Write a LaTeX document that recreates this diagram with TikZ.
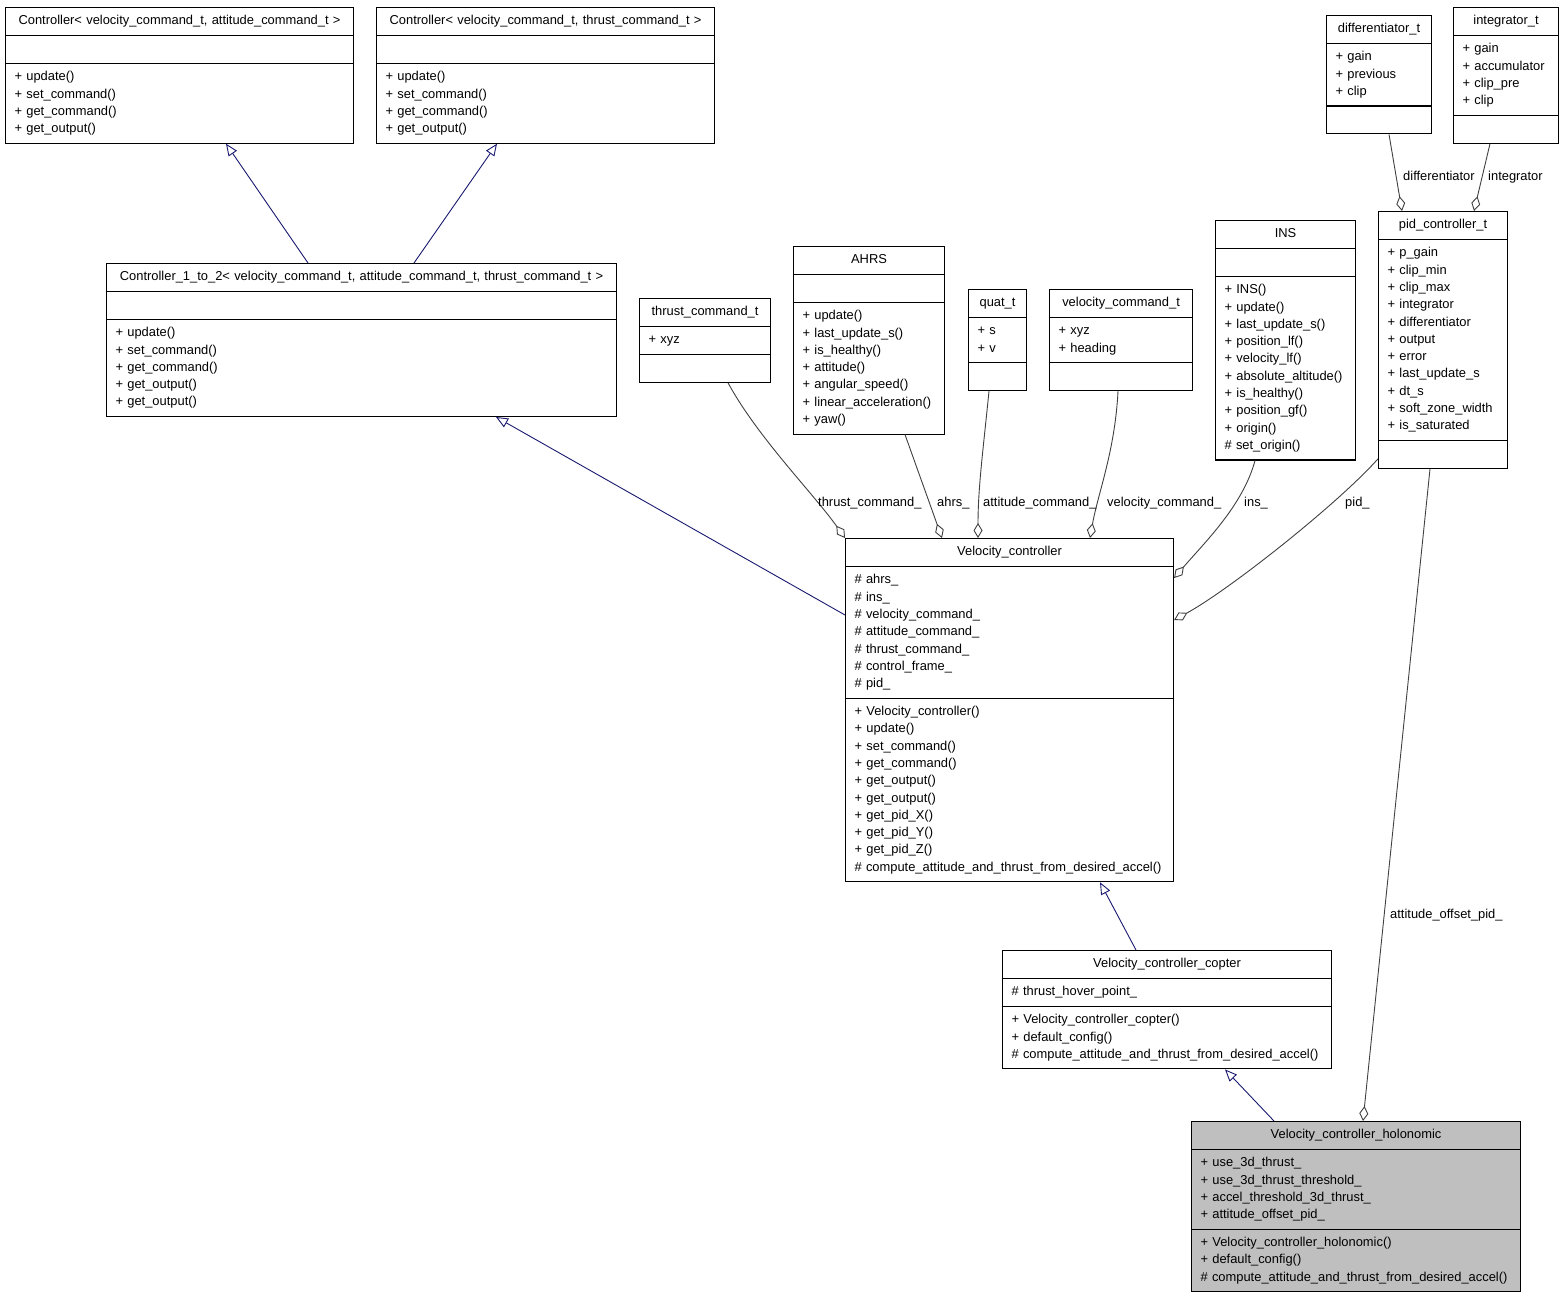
\documentclass[tikz,border=0pt]{standalone}
\usepackage{fontspec}
\setmainfont{Liberation Sans}
\usetikzlibrary{shapes.multipart,arrows.meta,calc}
\definecolor{ink}{HTML}{000000}
\definecolor{edgeG}{HTML}{404040}
\definecolor{inhB}{HTML}{191970}
\definecolor{selF}{HTML}{BFBFBF}
\newcommand{\umlfont}{\fontsize{12.9}{17.3}\selectfont}
\newcommand{\pub}{\strut+~}
\newcommand{\pro}{\strut\#~}
\newcommand{\umltitle}[1]{\strut\hfill\mbox{#1}\hfill\strut}
\tikzset{
  cls/.style={rectangle split, rectangle split parts=3, draw=ink, line width=1.1pt,
              fill=white, anchor=north west, inner xsep=9pt, inner ysep=4.75pt,
              align=left, font=\umlfont},
  inh/.style={-{Triangle[open, length=12pt, width=10pt]}, draw=inhB, line width=0.9pt},
  agg/.style={-{Diamond[open, length=15pt, width=9pt]}, draw=edgeG, line width=0.9pt},
  lbl/.style={font=\umlfont, anchor=base west, inner sep=0pt},
}

\begin{document}
\begin{tikzpicture}[x=1pt, y=-1pt]
  \useasboundingbox (0,0) rectangle (1564,1299);

  % ---------------------------------------------------------- base controllers
  \node[cls, text width=330pt] (ctrlatt) at (5,7)
    {\umltitle{Controller< velocity\_command\_t, attitude\_command\_t >}
     \nodepart{two}\strut
     \nodepart{three}\pub update()\\ \pub set\_command()\\ \pub get\_command()\\ \pub get\_output()};
  \node[cls, text width=320pt] (ctrlthr) at (376,7)
    {\umltitle{Controller< velocity\_command\_t, thrust\_command\_t >}
     \nodepart{two}\strut
     \nodepart{three}\pub update()\\ \pub set\_command()\\ \pub get\_command()\\ \pub get\_output()};
  \node[cls, text width=492pt] (ctrl12) at (106,263)
    {\umltitle{Controller\_1\_to\_2< velocity\_command\_t, attitude\_command\_t, thrust\_command\_t >}
     \nodepart{two}\strut
     \nodepart{three}\pub update()\\ \pub set\_command()\\ \pub get\_command()\\
       \pub get\_output()\\ \pub get\_output()};

  % ---------------------------------------------------------- members
  \node[cls, text width=113pt] (thrcmd) at (639,298)
    {\umltitle{thrust\_command\_t}
     \nodepart{two}\pub xyz
     \nodepart{three}\strut};
  \node[cls, text width=133pt] (ahrs) at (793,246)
    {\umltitle{AHRS}
     \nodepart{two}\strut
     \nodepart{three}\pub update()\\ \pub last\_update\_s()\\ \pub is\_healthy()\\ \pub attitude()\\
       \pub angular\_speed()\\ \pub linear\_acceleration()\\ \pub yaw()};
  \node[cls, text width=40pt] (quat) at (968,289)
    {\umltitle{quat\_t}
     \nodepart{two}\pub s\\ \pub v
     \nodepart{three}\strut};
  \node[cls, text width=125pt] (velcmd) at (1049,289)
    {\umltitle{velocity\_command\_t}
     \nodepart{two}\pub xyz\\ \pub heading
     \nodepart{three}\strut};
  \node[cls, text width=122pt] (ins) at (1215,220)
    {\umltitle{INS}
     \nodepart{two}\strut
     \nodepart{three}\pub INS()\\ \pub update()\\ \pub last\_update\_s()\\ \pub position\_lf()\\
       \pub velocity\_lf()\\ \pub absolute\_altitude()\\ \pub is\_healthy()\\ \pub position\_gf()\\
       \pub origin()\\ \pro set\_origin()};
  \node[cls, text width=111pt] (pid) at (1378,211)
    {\umltitle{pid\_controller\_t}
     \nodepart{two}\pub p\_gain\\ \pub clip\_min\\ \pub clip\_max\\ \pub integrator\\
       \pub differentiator\\ \pub output\\ \pub error\\ \pub last\_update\_s\\ \pub dt\_s\\
       \pub soft\_zone\_width\\ \pub is\_saturated
     \nodepart{three}\strut};
  \node[cls, text width=87pt] (diff) at (1326,15)
    {\umltitle{differentiator\_t}
     \nodepart{two}\pub gain\\ \pub previous\\ \pub clip
     \nodepart{three}\strut};
  \node[cls, text width=87pt] (integ) at (1453,7)
    {\umltitle{integrator\_t}
     \nodepart{two}\pub gain\\ \pub accumulator\\ \pub clip\_pre\\ \pub clip
     \nodepart{three}\strut};

  % ---------------------------------------------------------- velocity controllers
  \node[cls, text width=310pt] (velctrl) at (845,538)
    {\umltitle{Velocity\_controller}
     \nodepart{two}\pro ahrs\_\\ \pro ins\_\\ \pro velocity\_command\_\\ \pro attitude\_command\_\\
       \pro thrust\_command\_\\ \pro control\_frame\_\\ \pro pid\_
     \nodepart{three}\pub Velocity\_controller()\\ \pub update()\\ \pub set\_command()\\
       \pub get\_command()\\ \pub get\_output()\\ \pub get\_output()\\ \pub get\_pid\_X()\\
       \pub get\_pid\_Y()\\ \pub get\_pid\_Z()\\ \pro compute\_attitude\_and\_thrust\_from\_desired\_accel()};
  \node[cls, text width=311pt] (copter) at (1002,950)
    {\umltitle{Velocity\_controller\_copter}
     \nodepart{two}\pro thrust\_hover\_point\_
     \nodepart{three}\pub Velocity\_controller\_copter()\\ \pub default\_config()\\
       \pro compute\_attitude\_and\_thrust\_from\_desired\_accel()};
  \node[cls, fill=selF, text width=311pt] (holo) at (1191,1121)
    {\umltitle{Velocity\_controller\_holonomic}
     \nodepart{two}\pub use\_3d\_thrust\_\\ \pub use\_3d\_thrust\_threshold\_\\
       \pub accel\_threshold\_3d\_thrust\_\\ \pub attitude\_offset\_pid\_
     \nodepart{three}\pub Velocity\_controller\_holonomic()\\ \pub default\_config()\\
       \pro compute\_attitude\_and\_thrust\_from\_desired\_accel()};

  % inheritance
  \draw[inh] ($(ctrl12.north west)+(202,0)$) -- ($(ctrlatt.south west)+(221,0)$);
  \draw[inh] ($(ctrl12.north west)+(308,0)$) -- ($(ctrlthr.south west)+(121,0)$);
  \draw[inh] ($(velctrl.north west)+(0,77)$) -- ($(ctrl12.south west)+(390,0)$);
  \draw[inh] ($(copter.north west)+(134,0)$) -- ($(velctrl.south west)+(255,0)$);
  \draw[inh] ($(holo.north west)+(83,0)$) -- ($(copter.south west)+(223,0)$);

  % aggregation, diamond at the owner
  \draw[agg] ($(thrcmd.south west)+(89,0)$) .. controls +(30,55) and +(-32,-45) .. (velctrl.north west);
  \draw[agg] ($(ahrs.south west)+(112,0)$) -- ($(velctrl.north west)+(97,0)$);
  \draw[agg] ($(quat.south west)+(21,0)$) .. controls +(-6,60) and +(0,-50) .. ($(velctrl.north west)+(133,0)$);
  \draw[agg] ($(velcmd.south west)+(69,0)$) .. controls +(-3,60) and +(8,-45) .. ($(velctrl.north west)+(245,0)$);
  \draw[agg] ($(ins.south west)+(40,0)$) .. controls +(-12,45) and +(30,-35) .. ($(velctrl.north east)+(0,40)$);
  \draw[agg] ($(pid.south west)+(0,-10)$) .. controls +(-40,45) and +(55,-30) .. ($(velctrl.north east)+(0,82)$);
  \draw[agg] ($(pid.south west)+(52,0)$) -- ($(holo.north west)+(172,0)$);
  \draw[agg] ($(diff.south west)+(63,0)$) -- ($(pid.north west)+(24,0)$);
  \draw[agg] ($(integ.south west)+(37,0)$) -- ($(pid.north west)+(96,0)$);

  \node[lbl] (lthr) at (818,506) {thrust\_command\_};
  \node[lbl] (lahrs) at (937,506) {ahrs\_};
  \node[lbl] (latt) at (983,506) {attitude\_command\_};
  \node[lbl] (lvel) at (1107,506) {velocity\_command\_};
  \node[lbl] (lins) at (1244,506) {ins\_};
  \node[lbl] (lpid) at (1345,506) {pid\_};
  \node[lbl] (loff) at (1390,918) {attitude\_offset\_pid\_};
  \node[lbl] (ldiff) at (1403,180) {differentiator};
  \node[lbl] (linteg) at (1488,180) {integrator};
\end{tikzpicture}
\end{document}
